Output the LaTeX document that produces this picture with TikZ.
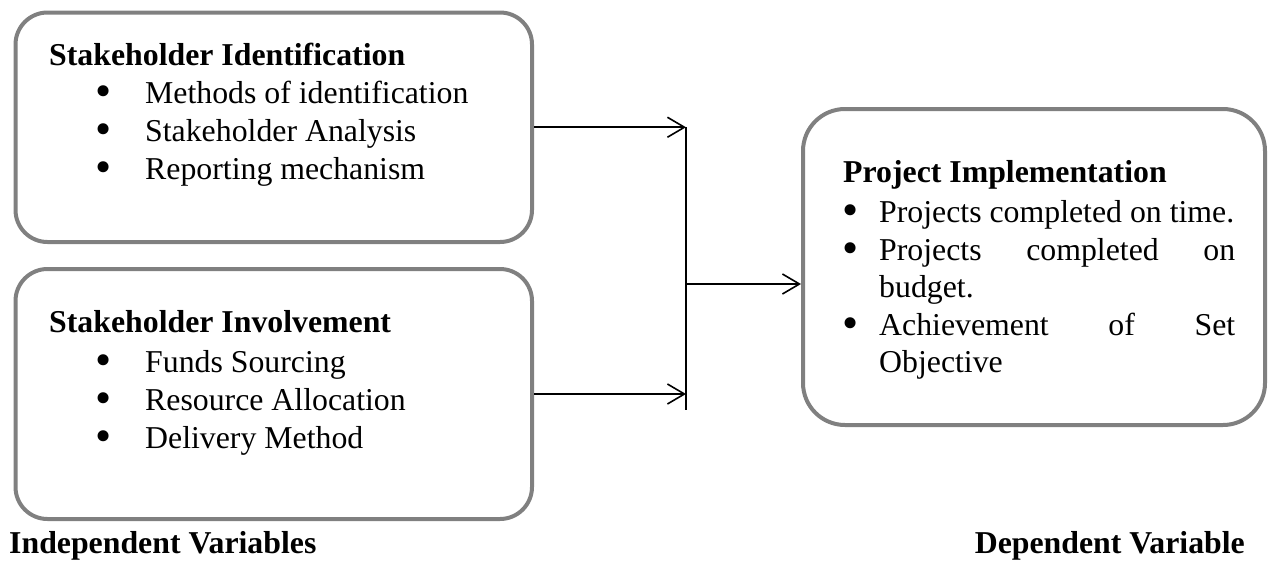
\documentclass[tikz,border=0pt]{standalone}
\usepackage{fontspec}
\setmainfont{Liberation Serif}
\usetikzlibrary{arrows.meta}
\definecolor{boxgray}{HTML}{808080}
\begin{document}
\begin{tikzpicture}[x=1pt,y=-1pt,
  box/.style={draw=boxgray,line width=4pt,inner sep=0pt},
  txt/.style={anchor=base west,inner sep=0pt,font=\fontsize{31.8}{38}\selectfont},
  hd/.style={anchor=base west,inner sep=0pt,font=\fontsize{31.8}{38}\selectfont\bfseries},
  hde/.style={anchor=base east,inner sep=0pt,font=\fontsize{31.8}{38}\selectfont\bfseries},
  bul/.style={anchor=base,inner sep=0pt,font=\fontsize{31.8}{38}\selectfont},
  conn/.style={line width=1.6pt,black},
  arr/.style={conn,-{Straight Barb[length=17pt,width=20pt]}}]
\useasboundingbox (0,0) rectangle (1269,560);
\newcommand{\bl}{\raisebox{-3pt}{\scalebox{1.45}{\textbullet}}}
% boxes
\node[box,rounded corners=32pt,minimum width=516.5pt,minimum height=229.5pt] (b1) at (273.75,127.25) {};
\node[box,rounded corners=32pt,minimum width=516.5pt,minimum height=250pt] (b2) at (273.75,394) {};
\node[box,rounded corners=42pt,minimum width=462pt,minimum height=316pt] (b3) at (1034,267) {};
% box 1 text
\node[hd] (t1) at (49,65) {Stakeholder Identification};
\node[bul] (p11) at (104,103) {\bl};
\node[bul] (p12) at (104,141) {\bl};
\node[bul] (p13) at (104,179) {\bl};
\node[txt] (i11) at (145,103) {Methods of identification};
\node[txt] (i12) at (145,141) {Stakeholder Analysis};
\node[txt] (i13) at (145,179) {Reporting mechanism};
% box 2 text
\node[hd] (t2) at (49,332) {Stakeholder Involvement};
\node[bul] (p21) at (104,372) {\bl};
\node[bul] (p22) at (104,410) {\bl};
\node[bul] (p23) at (104,448) {\bl};
\node[txt] (i21) at (145,372) {Funds Sourcing};
\node[txt] (i22) at (145,410) {Resource Allocation};
\node[txt] (i23) at (145,448) {Delivery Method};
% box 3 text
\node[hd] (t3) at (843,182) {Project Implementation};
\node[bul] (p31) at (851,222) {\bl};
\node[bul] (p32) at (851,260) {\bl};
\node[bul] (p33) at (851,335) {\bl};
\node[txt] (i31) at (879,222) {Projects completed on time.};
\node[txt] (i32) at (879,260) {\makebox[356pt][s]{Projects completed on}};
\node[txt] (i32b) at (879,297) {budget.};
\node[txt] (i33) at (879,335) {\makebox[356pt][s]{Achievement of Set}};
\node[txt] (i33b) at (879,372) {Objective};
% labels
\node[hd] (lind) at (9,553) {Independent Variables};
\node[hde] (ldep) at (1245,553) {Dependent Variable};
% connectors
\coordinate (vb) at (686,410);
\coordinate (j) at (686,284);
\draw[arr] (b1.east) -- (b1.east -| vb);
\draw[arr] (b2.east) -- (b2.east -| vb);
\draw[conn] (b1.east -| vb) -- (vb);
\draw[arr] (j) -- (j -| b3.west);
\end{tikzpicture}
\end{document}
